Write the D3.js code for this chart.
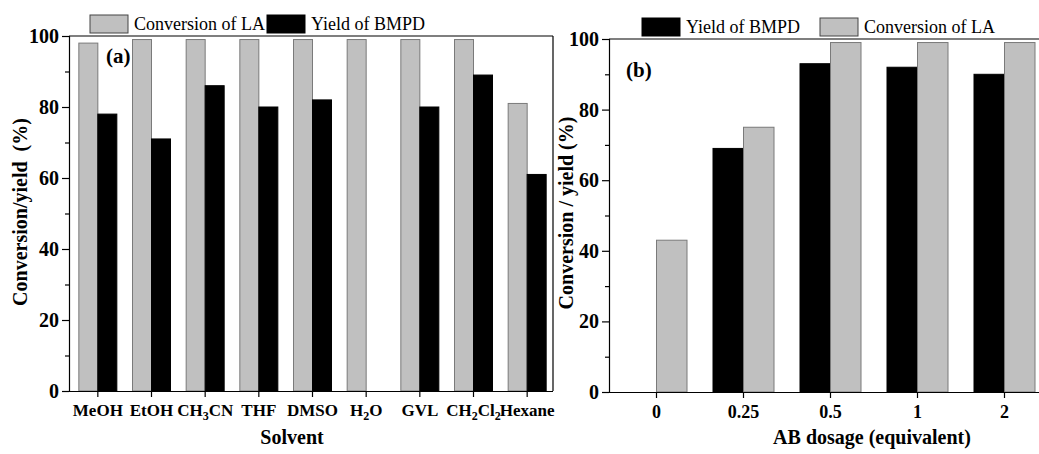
<!DOCTYPE html>
<html>
<head>
<meta charset="utf-8">
<script src="https://cdn.jsdelivr.net/npm/d3@7"></script>
<style>
body { margin: 0; background: #fff; }
svg text { font-family: "Liberation Serif", "Times New Roman", serif; fill: #000; }
.tick text { font-weight: bold; }
.domain, .tick line { stroke: #000; stroke-width: 1.2; }
</style>
</head>
<body>
<svg id="chart" width="1039" height="454"></svg>
<script>
// panel (a): solvent screening
const solvents = ['MeOH', 'EtOH', 'CH3CN', 'THF', 'DMSO', 'H2O', 'GVL', 'CH2Cl2', 'Hexane'];
const convA = [98, 99, 99, 99, 99, 99, 99, 99, 81];
const yieldA = [78, 71, 86, 80, 82, 0, 80, 89, 61];
// panel (b): AB dosage
const dosages = ['0', '0.25', '0.5', '1', '2'];
const yieldB = [0, 69, 93, 92, 90];
const convB = [43, 75, 99, 99, 99];
const yTicks = [0, 20, 40, 60, 80, 100];
const yMinor = [10, 30, 50, 70, 90];

// label rich-text for subscripts
const labelParts = {
    'CH3CN': [['CH', 0], ['3', 1], ['CN', 0]],
    'H2O': [['H', 0], ['2', 1], ['O', 0]],
    'CH2Cl2': [['CH', 0], ['2', 1], ['Cl', 0], ['2', 1]]
};

const GRAY = '#c0c0c0', GRAYLINE = '#7a7a7a';
const svg = d3.select('#chart');

function drawPanel(opt) {
    const g = svg.append('g');
    const x = d3.scaleBand().domain(opt.cats).range([opt.x0, opt.x1]);
    const y = d3.scaleLinear().domain([0, 100]).range([opt.yb, opt.yt]);
    const bw = opt.barW;
    const mid = c => x(c) + x.bandwidth() / 2;

    opt.series.forEach((s, si) => {
        g.append('g').selectAll('rect').data(opt.cats.map((c, i) => ({c, v: s.values[i]})).filter(d => d.v > 0))
            .join('rect')
            .attr('x', d => si === 0 ? mid(d.c) - bw : mid(d.c))
            .attr('y', d => y(d.v))
            .attr('width', bw)
            .attr('height', d => y(0) - y(d.v))
            .attr('fill', s.fill)
            .attr('stroke', s.stroke)
            .attr('stroke-width', 1);
    });

    // frame lines
    g.append('line').attr('x1', opt.axX).attr('x2', opt.frameR).attr('y1', opt.yt).attr('y2', opt.yt)
        .attr('stroke', '#000').attr('stroke-width', 1.2);
    if (opt.frameR < 1039)
        g.append('line').attr('x1', opt.frameR).attr('x2', opt.frameR).attr('y1', opt.yt).attr('y2', opt.yb)
            .attr('stroke', '#000').attr('stroke-width', 1.2);

    // y axis
    g.append('g').attr('transform', `translate(${opt.axX},0)`)
        .call(d3.axisLeft(y).tickValues(yTicks).tickSize(7).tickPadding(3).tickFormat(d3.format('d')))
        .selectAll('.tick text').attr('font-size', 20);
    g.append('g').attr('transform', `translate(${opt.axX},0)`)
        .call(d3.axisLeft(y).tickValues(yMinor).tickSize(4).tickFormat(''))
        .select('.domain').remove();

    // x axis
    const xa = g.append('g').attr('transform', `translate(0,${opt.yb})`)
        .call(d3.axisBottom(x).tickSize(6).tickPadding(7).tickSizeOuter(0));
    xa.select('.domain').attr('d', `M${opt.axX},0.5H${opt.frameR}`);
    xa.selectAll('.tick text').attr('font-size', opt.catSize).each(function(d) {
        const t = d3.select(this);
        const parts = labelParts[d];
        if (!parts) return;
        t.text(null);
        let shifted = false;
        parts.forEach(([s, isSub]) => {
            const ts = t.append('tspan').text(s);
            if (isSub) { ts.attr('font-size', 12).attr('dy', 4); shifted = true; }
            else if (shifted) { ts.attr('dy', -4); shifted = false; }
        });
    });

    // axis titles
    g.append('text').attr('x', opt.xTitleX).attr('y', opt.xTitleY).attr('text-anchor', 'middle')
        .attr('font-weight', 'bold').attr('font-size', 20).text(opt.xTitle);
    g.append('text').attr('transform', `translate(${opt.yTitleX},${opt.yTitleY}) rotate(-90)`)
        .attr('text-anchor', 'middle').attr('font-weight', 'bold').attr('font-size', 20)
        .style('white-space', 'pre').text(opt.yTitle);

    // panel tag
    g.append('text').attr('x', opt.tagX).attr('y', opt.tagY).attr('font-weight', 'bold')
        .attr('font-size', 21).text(opt.tag);

    // legend
    opt.legend.forEach(l => {
        g.append('rect').attr('x', l.x).attr('y', opt.legY).attr('width', 38).attr('height', 18)
            .attr('fill', l.fill).attr('stroke', l.stroke).attr('stroke-width', 1);
        g.append('text').attr('x', l.x + 44).attr('y', opt.legY + 15).attr('font-size', 18).text(l.name);
    });
}

drawPanel({
    cats: solvents, x0: 71, x1: 554, axX: 69, frameR: 553, yt: 36, yb: 391, barW: 19, catSize: 17,
    series: [
        {name: 'Conversion of LA', values: convA, fill: GRAY, stroke: GRAYLINE},
        {name: 'Yield of BMPD', values: yieldA, fill: '#000', stroke: '#000'}
    ],
    xTitle: 'Solvent', xTitleX: 292, xTitleY: 444,
    yTitle: 'Conversion/yield  (%)', yTitleX: 27, yTitleY: 212,
    tag: '(a)', tagX: 106, tagY: 63,
    legY: 15,
    legend: [
        {name: 'Conversion of LA', x: 90, fill: GRAY, stroke: '#444'},
        {name: 'Yield of BMPD', x: 267, fill: '#000', stroke: '#000'}
    ]
});

drawPanel({
    cats: dosages, x0: 613, x1: 1048, axX: 609, frameR: 1100, yt: 39, yb: 392, barW: 30.5, catSize: 18,
    series: [
        {name: 'Yield of BMPD', values: yieldB, fill: '#000', stroke: '#000'},
        {name: 'Conversion of LA', values: convB, fill: GRAY, stroke: GRAYLINE}
    ],
    xTitle: 'AB dosage (equivalent)', xTitleX: 872, xTitleY: 444,
    yTitle: 'Conversion / yield (%)', yTitleX: 573, yTitleY: 213,
    tag: '(b)', tagX: 626, tagY: 77,
    legY: 18,
    legend: [
        {name: 'Yield of BMPD', x: 642, fill: '#000', stroke: '#000'},
        {name: 'Conversion of LA', x: 820, fill: GRAY, stroke: '#444'}
    ]
});
</script>
</body>
</html>
